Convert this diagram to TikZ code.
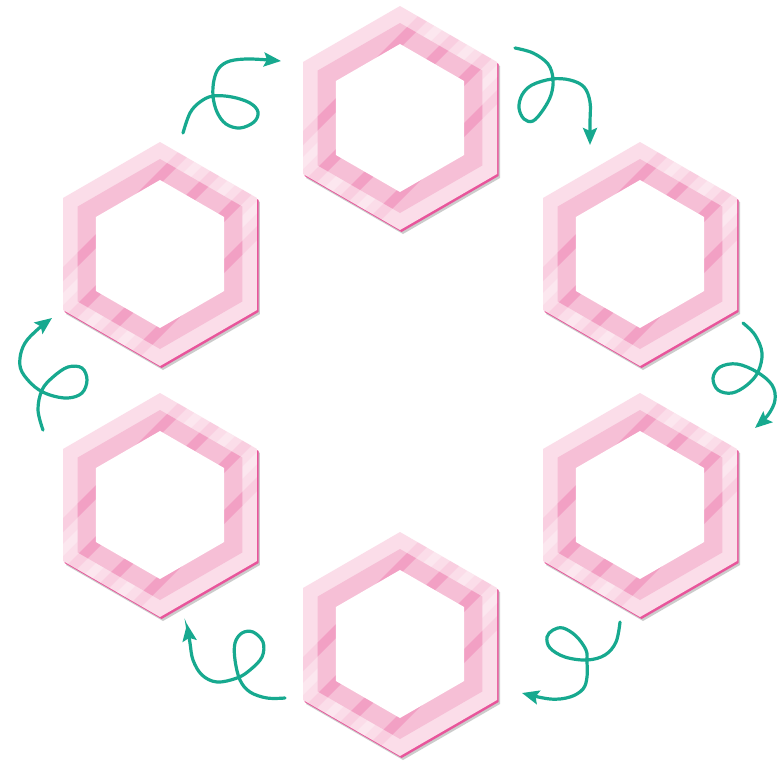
\documentclass[tikz,border=0pt]{standalone}
\usetikzlibrary{arrows.meta}
\definecolor{pOuter}{HTML}{FBDDE9}
\definecolor{pRing}{HTML}{F6BFD6}
\definecolor{pBand}{HTML}{EE6FA8}
\definecolor{pEdge}{HTML}{E8559B}
\definecolor{arrTeal}{HTML}{17A98F}
\newcommand\HexP[3]{(#1,#2) +(90:#3) -- +(30:#3) -- +(-30:#3) -- +(-90:#3) -- +(-150:#3) -- +(150:#3) -- cycle}
\newcommand\BandP[4]{(#1+#3+150,#2-150) -- (#1+#4+150,#2-150) -- (#1+#4-150,#2+150) -- (#1+#3-150,#2+150) -- cycle}
\newcommand\Tile[3]{%
  \coordinate (#1) at (#2,#3);
  \fill[gray!40] \HexP{#2+3}{#3+4}{112};
  \fill[pEdge] \HexP{#2+1.6}{#3+2}{112};
  \fill[pOuter] \HexP{#2}{#3}{112};
  \begin{scope}
    \clip \HexP{#2}{#3}{112};
    \foreach \c in {-77,-26,25,76} {\fill[pBand,opacity=0.13] \BandP{#2}{#3}{\c-7}{\c+7};}
    \foreach \c in {-52,0,50} {\fill[white,opacity=0.3] \BandP{#2}{#3}{\c-6}{\c+6};}
  \end{scope}
  \fill[pRing] \HexP{#2}{#3}{95};
  \begin{scope}
    \clip \HexP{#2}{#3}{95};
    \foreach \c in {-77,-26,25,76} {\fill[pBand,opacity=0.38] \BandP{#2}{#3}{\c-7}{\c+7};}
  \end{scope}
  \fill[white] \HexP{#2}{#3}{74};
}
\tikzset{curl/.style={draw=arrTeal, line width=3.2pt, line cap=round,
  -{Stealth[length=17pt,width=14pt,inset=3pt]}}}
\begin{document}
\begin{tikzpicture}[x=1pt,y=-1pt]
\useasboundingbox (0,0) rectangle (784,761);
\fill[white] (0,0) rectangle (784,761);
\Tile{T}{400}{118}
\Tile{TR}{640}{254}
\Tile{BR}{640}{505}
\Tile{B}{400}{644}
\Tile{BL}{160}{505}
\Tile{TL}{160}{254}
% arrows
\draw[curl] plot[smooth, tension=0.6] coordinates {(183,133) (190,113) (200,102) (213,96) (232,97) (250,103) (258,112) (254,122) (240,128) (226,124) (217,112) (213,96) (214,80) (219,68) (230,61) (250,59) (281,61)};
\draw[curl] plot[smooth, tension=0.6] coordinates {(515,48) (533,53) (548,64) (553,79) (551,95) (543,110) (533,121) (524,119) (519,108) (522,95) (532,85) (552,79) (570,80) (584,87) (590,102) (590,122) (590,145)};
\draw[curl] plot[smooth, tension=0.6] coordinates {(743,323) (755,335) (762,353) (758,372) (747,385) (732,393) (718,390) (713,378) (720,367) (737,364) (757,372) (772,385) (775,400) (768,415) (755,428)};
\draw[curl] plot[smooth, tension=0.6] coordinates {(620,622) (616,642) (605,655) (587,660) (565,657) (550,648) (547,637) (553,630) (563,628) (576,636) (586,650) (587,662) (587,677) (583,689) (570,697) (550,699) (522,693)};
\draw[curl] plot[smooth, tension=0.6] coordinates {(285,698) (267,698) (250,692) (240,680) (235,660) (235,643) (242,633) (253,632) (263,642) (262,657) (250,670) (237,678) (217,682) (202,675) (193,660) (190,643) (187,624)};
\draw[curl] plot[smooth, tension=0.6] coordinates {(43,430) (38,410) (42,390) (53,377) (68,367) (82,368) (87,380) (82,393) (68,398) (50,395) (35,387) (22,372) (20,358) (25,343) (37,330) (52,318)};
\end{tikzpicture}
\end{document}
